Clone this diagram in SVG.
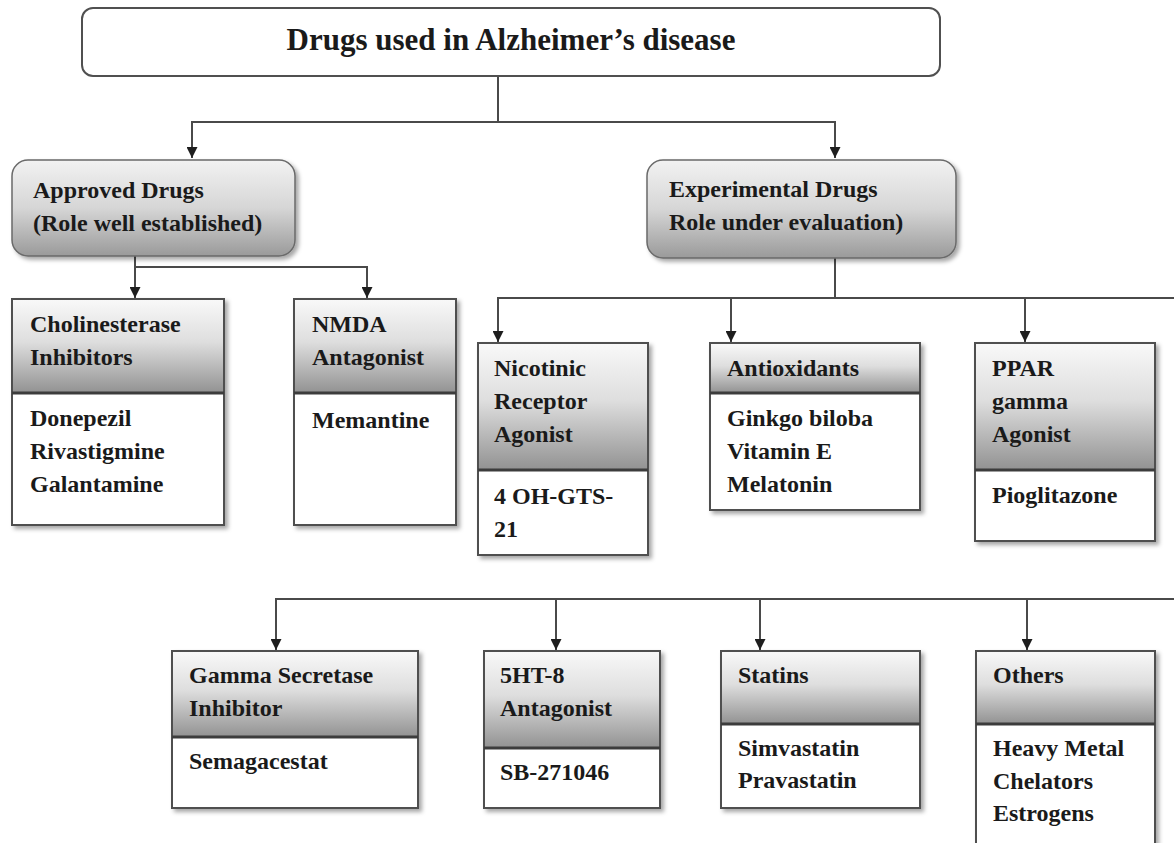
<svg xmlns="http://www.w3.org/2000/svg" width="1174" height="843" viewBox="0 0 1174 843">
<style>
  text { font-family: "Liberation Serif", "Times New Roman", serif; font-weight: bold; fill: #1a1a1a; }
  .t { font-size: 24px; }
  .title { font-size: 31px; }
  .box { fill: #ffffff; stroke: #505050; stroke-width: 2; }
  .frame { fill: none; stroke: #505050; stroke-width: 2; }
  .hdr { fill: url(#hg); stroke: none; }
  .sep { stroke: #3c3c3c; stroke-width: 3; }
  .rbox { fill: url(#rg); stroke: #6a6a6a; stroke-width: 1.5; }
  .conn { fill: none; stroke: #4a4a4a; stroke-width: 2; }
</style>
<defs>
  <linearGradient id="hg" x1="0" y1="0" x2="0" y2="1">
    <stop offset="0" stop-color="#f8f8f8"/>
    <stop offset="0.45" stop-color="#dedede"/>
    <stop offset="1" stop-color="#929292"/>
  </linearGradient>
  <linearGradient id="rg" x1="0" y1="0" x2="0" y2="1">
    <stop offset="0" stop-color="#f2f2f2"/>
    <stop offset="0.5" stop-color="#d6d6d6"/>
    <stop offset="1" stop-color="#9a9a9a"/>
  </linearGradient>
  <filter id="sh" x="-10%" y="-10%" width="130%" height="130%">
    <feDropShadow dx="3" dy="3" stdDeviation="2" flood-color="#000" flood-opacity="0.35"/>
  </filter>
  <marker id="ah" viewBox="0 0 10 10" refX="10" refY="5" markerWidth="11" markerHeight="11" markerUnits="userSpaceOnUse" orient="auto">
    <path d="M0,0 L10,5 L0,10 z" fill="#1e1e1e"/>
  </marker>
</defs>

<g id="connectors">
  <path class="conn" d="M498,76 V122"/>
  <path class="conn" d="M498,122 H192 V158" marker-end="url(#ah)"/>
  <path class="conn" d="M498,122 H835 V158" marker-end="url(#ah)"/>
  <path class="conn" d="M135,256 V267 V298" marker-end="url(#ah)"/>
  <path class="conn" d="M135,267 H367 V298" marker-end="url(#ah)"/>
  <path class="conn" d="M835,258 V298"/>
  <path class="conn" d="M835,298 H498 V342" marker-end="url(#ah)"/>
  <path class="conn" d="M835,298 H1174"/>
  <path class="conn" d="M731,298 V342" marker-end="url(#ah)"/>
  <path class="conn" d="M1025,298 V342" marker-end="url(#ah)"/>
  <path class="conn" d="M1174,599 H276 V650" marker-end="url(#ah)"/>
  <path class="conn" d="M556,599 V650" marker-end="url(#ah)"/>
  <path class="conn" d="M760,599 V650" marker-end="url(#ah)"/>
  <path class="conn" d="M1027,599 V650" marker-end="url(#ah)"/>
</g>

<g id="root">
  <rect x="82" y="8" width="858" height="68" rx="11" class="box" stroke="#3a3a3a"/>
  <text class="title" x="511" y="50" text-anchor="middle">Drugs used in Alzheimer’s disease</text>
</g>

<g id="approved">
  <rect x="12" y="160" width="283" height="96" rx="16" class="rbox" filter="url(#sh)"/>
  <text class="t" x="33" y="198">Approved Drugs</text>
  <text class="t" x="33" y="231">(Role well established)</text>
</g>

<g id="experimental">
  <rect x="647" y="160" width="309" height="98" rx="16" class="rbox" filter="url(#sh)"/>
  <text class="t" x="669" y="197">Experimental Drugs</text>
  <text class="t" x="669" y="230">Role under evaluation)</text>
</g>

<g id="cholinesterase">
  <rect x="12" y="299" width="212" height="226" class="box" filter="url(#sh)"/>
  <rect x="13" y="300" width="210" height="93" class="hdr"/>
  <line x1="12" y1="393" x2="224" y2="393" class="sep"/>
  <text class="t" x="30" y="332">Cholinesterase</text>
  <text class="t" x="30" y="365">Inhibitors</text>
  <text class="t" x="30" y="426">Donepezil</text>
  <text class="t" x="30" y="459">Rivastigmine</text>
  <text class="t" x="30" y="492">Galantamine</text>
</g>

<g id="nmda">
  <rect x="294" y="299" width="162" height="226" class="box" filter="url(#sh)"/>
  <rect x="295" y="300" width="160" height="93" class="hdr"/>
  <line x1="294" y1="393" x2="456" y2="393" class="sep"/>
  <text class="t" x="312" y="332">NMDA</text>
  <text class="t" x="312" y="365">Antagonist</text>
  <text class="t" x="312" y="428">Memantine</text>
</g>

<g id="nicotinic">
  <rect x="478" y="343" width="170" height="212" class="box" filter="url(#sh)"/>
  <rect x="479" y="344" width="168" height="126" class="hdr"/>
  <line x1="478" y1="470" x2="648" y2="470" class="sep"/>
  <text class="t" x="494" y="376">Nicotinic</text>
  <text class="t" x="494" y="409">Receptor</text>
  <text class="t" x="494" y="442">Agonist</text>
  <text class="t" x="494" y="504">4 OH-GTS-</text>
  <text class="t" x="494" y="537">21</text>
</g>

<g id="antioxidants">
  <rect x="710" y="343" width="210" height="167" class="box" filter="url(#sh)"/>
  <rect x="711" y="344" width="208" height="49" class="hdr"/>
  <line x1="710" y1="393" x2="920" y2="393" class="sep"/>
  <text class="t" x="727" y="376">Antioxidants</text>
  <text class="t" x="727" y="426">Ginkgo biloba</text>
  <text class="t" x="727" y="459">Vitamin E</text>
  <text class="t" x="727" y="492">Melatonin</text>
</g>

<g id="ppar">
  <rect x="975" y="343" width="180" height="198" class="box" filter="url(#sh)"/>
  <rect x="976" y="344" width="178" height="126" class="hdr"/>
  <line x1="975" y1="470" x2="1155" y2="470" class="sep"/>
  <text class="t" x="992" y="376">PPAR</text>
  <text class="t" x="992" y="409">gamma</text>
  <text class="t" x="992" y="442">Agonist</text>
  <text class="t" x="992" y="503">Pioglitazone</text>
</g>

<g id="gamma-secretase">
  <rect x="172" y="651" width="246" height="157" class="box" filter="url(#sh)"/>
  <rect x="173" y="652" width="244" height="85" class="hdr"/>
  <line x1="172" y1="737" x2="418" y2="737" class="sep"/>
  <text class="t" x="189" y="683">Gamma Secretase</text>
  <text class="t" x="189" y="716">Inhibitor</text>
  <text class="t" x="189" y="769">Semagacestat</text>
</g>

<g id="ht8">
  <rect x="484" y="651" width="176" height="157" class="box" filter="url(#sh)"/>
  <rect x="485" y="652" width="174" height="96" class="hdr"/>
  <line x1="484" y1="748" x2="660" y2="748" class="sep"/>
  <text class="t" x="500" y="683">5HT-8</text>
  <text class="t" x="500" y="716">Antagonist</text>
  <text class="t" x="500" y="780">SB-271046</text>
</g>

<g id="statins">
  <rect x="721" y="651" width="199" height="157" class="box" filter="url(#sh)"/>
  <rect x="722" y="652" width="197" height="72" class="hdr"/>
  <line x1="721" y1="724" x2="920" y2="724" class="sep"/>
  <text class="t" x="738" y="683">Statins</text>
  <text class="t" x="738" y="756">Simvastatin</text>
  <text class="t" x="738" y="788">Pravastatin</text>
</g>

<g id="others">
  <rect x="976" y="651" width="179" height="210" class="box" filter="url(#sh)"/>
  <rect x="977" y="652" width="177" height="72" class="hdr"/>
  <line x1="976" y1="724" x2="1155" y2="724" class="sep"/>
  <text class="t" x="993" y="683">Others</text>
  <text class="t" x="993" y="756">Heavy Metal</text>
  <text class="t" x="993" y="789">Chelators</text>
  <text class="t" x="993" y="821">Estrogens</text>
</g>
</svg>
